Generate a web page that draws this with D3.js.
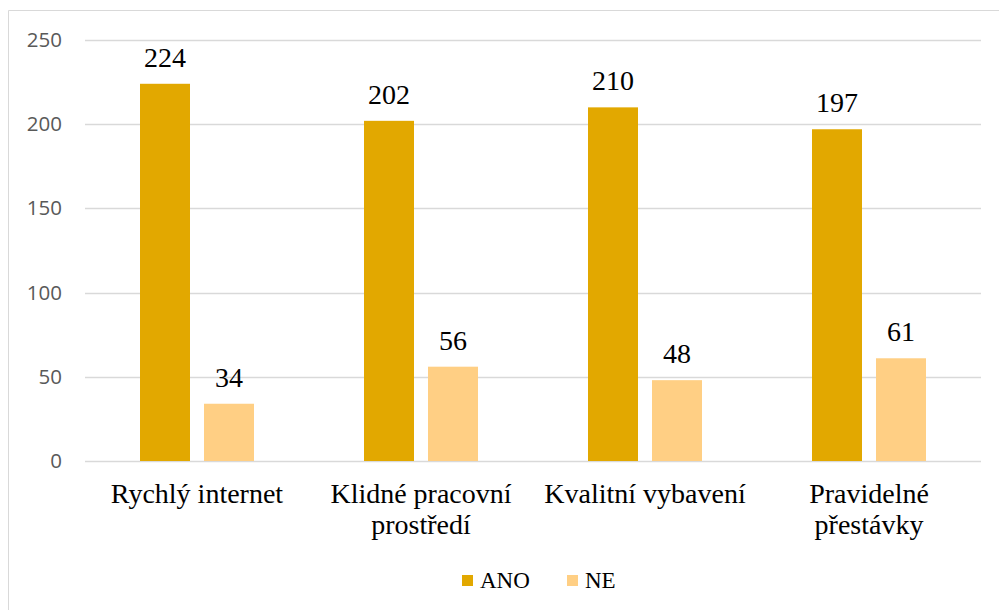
<!DOCTYPE html>
<html><head><meta charset="utf-8">
<script src="https://cdn.jsdelivr.net/npm/d3@7"></script>
<style>body{margin:0;background:#fff}svg{display:block}
.serif{font-family:"Liberation Serif","Times New Roman","DejaVu Serif",serif}
.sans{font-family:"Open Sans","Liberation Sans",sans-serif}
</style>
</head><body>
<script>
const categories = ["Rychlý internet", "Klidné pracovní\nprostředí", "Kvalitní vybavení", "Pravidelné\npřestávky"];
const seriesNames = ["ANO", "NE"];
const anoValues = [224, 202, 210, 197];
const neValues = [34, 56, 48, 61];
const yTicks = [0, 50, 100, 150, 200, 250];
const colors = ["#E2A800", "#FFCF84"];

const W = 999, H = 610;
const svg = d3.select("body").append("svg").attr("width", W).attr("height", H);

svg.append("path").attr("d", "M8.5,610 L8.5,10.5 L999,10.5").attr("fill", "none").attr("stroke", "#d9d9d9").attr("stroke-width", 1);

const plot = {left: 85, right: 981, top: 40, bottom: 461};
const x = d3.scaleBand().domain(d3.range(categories.length)).range([plot.left, plot.right]);
const y = d3.scaleLinear().domain([0, 250]).range([plot.bottom, plot.top]);

svg.append("g").selectAll("line").data(yTicks).join("line")
  .attr("x1", plot.left).attr("x2", plot.right)
  .attr("y1", d => Math.round(y(d)) + 0.5).attr("y2", d => Math.round(y(d)) + 0.5)
  .attr("stroke", "#d9d9d9").attr("stroke-width", 1.3);

const yAxis = d3.axisLeft(y).tickValues(yTicks).tickSize(0).tickPadding(0);
const ya = svg.append("g").attr("transform", `translate(62,0)`).call(yAxis);
ya.select(".domain").remove();
ya.attr("font-family", null).attr("font-size", null);
ya.selectAll("text").attr("class", "sans").style("font-size", "20.5px").attr("fill", "#595959");

const barW = 50, gap = 14;
const series = [anoValues, neValues];
const g = svg.append("g");
series.forEach((vals, si) => {
  const off = si === 0 ? -(gap / 2 + barW) : gap / 2;
  const cx = i => x(i) + x.bandwidth() / 2 + off;
  g.selectAll(null).data(vals).join("rect")
    .attr("x", (d, i) => cx(i)).attr("width", barW)
    .attr("y", d => y(d)).attr("height", d => y(0) - y(d))
    .attr("fill", colors[si]);
  g.selectAll(null).data(vals).join("text")
    .attr("class", "serif")
    .attr("x", (d, i) => cx(i) + barW / 2).attr("y", d => y(d) - 17)
    .attr("text-anchor", "middle")
    .style("font-size", "28px").attr("fill", "#000").text(d => d);
});

const cat = svg.append("g").selectAll("text").data(categories).join("text")
  .attr("class", "serif")
  .attr("text-anchor", "middle")
  .style("font-size", "28px").attr("fill", "#000")
  .attr("x", (d, i) => x(i) + x.bandwidth() / 2).attr("y", 503);
cat.each(function(d) {
  const t = d3.select(this);
  d.split("\n").forEach((line, k) => {
    t.append("tspan").attr("x", t.attr("x")).attr("dy", k === 0 ? 0 : 31).text(line);
  });
});

const legendX = [462, 567];
const lg = svg.append("g").selectAll("g").data(seriesNames).join("g")
  .attr("transform", (d, i) => `translate(${legendX[i]},575)`);
lg.append("rect").attr("width", 11).attr("height", 11).attr("fill", (d, i) => colors[i]);
lg.append("text").attr("class", "serif").attr("x", 18).attr("y", 13)
  .style("font-size", "23px").attr("fill", "#000").text(d => d);
</script>
</body></html>
